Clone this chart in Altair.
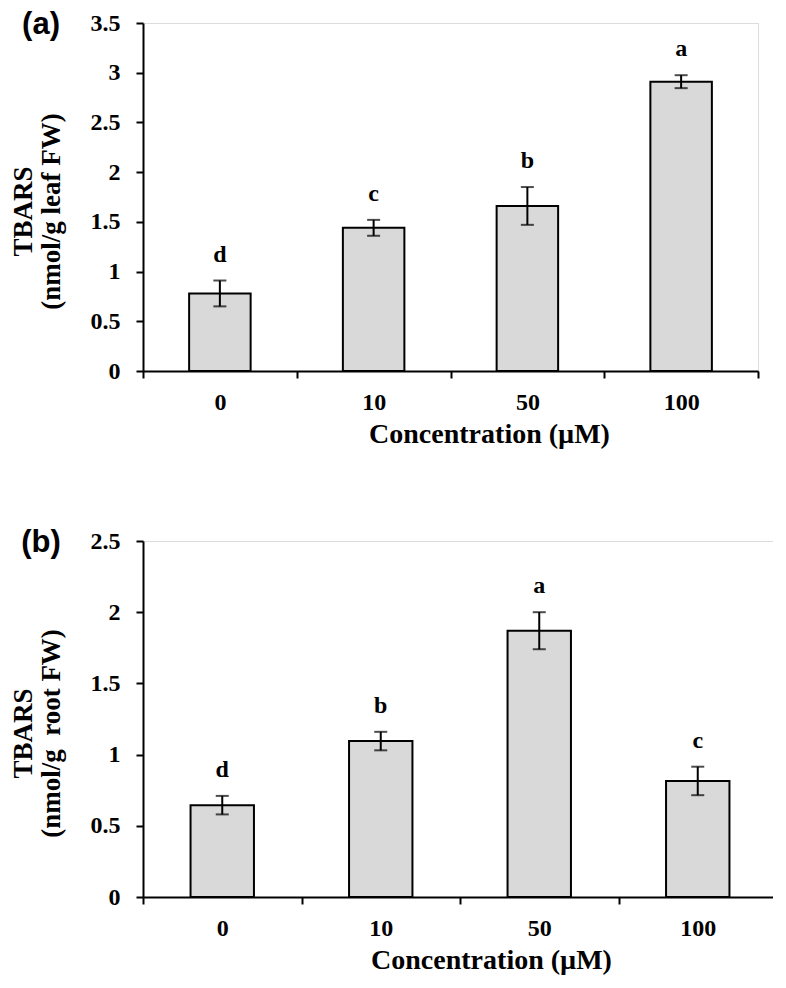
import altair as alt
import pandas as pd

conc = ["0", "10", "50", "100"]

leaf_mean = [0.78, 1.44, 1.66, 2.91]
leaf_err = [0.13, 0.08, 0.19, 0.065]
leaf_letters = ["d", "c", "b", "a"]

root_mean = [0.645, 1.095, 1.87, 0.815]
root_err = [0.065, 0.065, 0.13, 0.10]
root_letters = ["d", "b", "a", "c"]

SERIF = "Liberation Serif"


def panel(means, errs, letters, ymax, ytitle, tag, width, height, xtitle_x, ytitle_y):
    df = pd.DataFrame({"conc": conc, "mean": means, "err": errs, "letter": letters})
    df["lo"] = df["mean"] - df["err"]
    df["hi"] = df["mean"] + df["err"]

    yvals = [i * 0.5 for i in range(int(ymax / 0.5) + 1)]
    xscale = alt.Scale(domain=conc, paddingInner=0, paddingOuter=0)
    yscale = alt.Scale(domain=[0, ymax], nice=False, zero=True)

    x_axis = alt.Axis(
        title="Concentration (µM)", labelAngle=0, tickBand="extent",
        domainColor="black", domainWidth=2, tickColor="black", tickWidth=2,
        tickSize=7, labelFont=SERIF, labelFontWeight="bold", labelFontSize=24,
        labelColor="black", labelPadding=12, titleFont=SERIF, titleFontWeight="bold",
        titleFontSize=28, titleColor="black", titlePadding=6, grid=False,
        titleX=xtitle_x, titleAlign="center",
    )
    y_axis = alt.Axis(
        title=ytitle, values=yvals, format="~g",
        domainColor="black", domainWidth=2, tickColor="black", tickWidth=2,
        tickSize=7, labelFont=SERIF, labelFontWeight="bold", labelFontSize=24,
        labelColor="black", labelPadding=16, titleFont=SERIF, titleFontWeight="bold",
        titleFontSize=27, titleColor="black", titlePadding=25, titleLineHeight=28,
        titleY=ytitle_y, grid=False,
    )

    base = alt.Chart(df)
    x_enc = alt.X("conc:N", scale=xscale, axis=x_axis)
    bars = base.mark_bar(
        width=alt.RelativeBandSize(0.4), fill="#d9d9d9", stroke="black", strokeWidth=2
    ).encode(x=x_enc, y=alt.Y("mean:Q", scale=yscale, axis=y_axis))
    rules = base.mark_rule(color="black", strokeWidth=2).encode(
        x=alt.X("conc:N", scale=xscale), y=alt.Y("lo:Q", scale=yscale), y2="hi:Q"
    )
    caps_hi = base.mark_tick(color="black", thickness=2, size=13).encode(
        x=alt.X("conc:N", scale=xscale), y=alt.Y("hi:Q", scale=yscale)
    )
    caps_lo = base.mark_tick(color="black", thickness=2, size=13).encode(
        x=alt.X("conc:N", scale=xscale), y=alt.Y("lo:Q", scale=yscale)
    )
    letters_layer = base.mark_text(
        font=SERIF, fontWeight="bold", fontSize=24, color="black",
        baseline="alphabetic", dy=-19,
    ).encode(
        x=alt.X("conc:N", scale=xscale), y=alt.Y("hi:Q", scale=yscale), text="letter:N"
    )
    tag_layer = alt.Chart(pd.DataFrame({"t": [tag]})).mark_text(
        font="Liberation Sans", fontWeight="bold", fontSize=31, color="black",
        baseline="middle", align="center",
    ).encode(text="t:N", x=alt.value(-102), y=alt.value(2))

    return alt.layer(bars, rules, caps_hi, caps_lo, letters_layer, tag_layer).properties(
        width=width, height=height
    )


pa = panel(leaf_mean, leaf_err, leaf_letters, 3.5,
           ["TBARS", "(nmol/g leaf FW)"], "(a)", 615, 348, 346, 188)
pb = panel(root_mean, root_err, root_letters, 2.5,
           ["TBARS", "(nmol/g\u00a0 root FW)"], "(b)", 634, 356, 348, 192)

chart = alt.vconcat(pa, pb, spacing=77).configure_view(stroke=None).configure(
    background="white"
).properties(padding={"left": 0, "top": 0, "right": -6, "bottom": 0})

chart.save("out.html", embed_options={"renderer": "svg", "actions": False})
